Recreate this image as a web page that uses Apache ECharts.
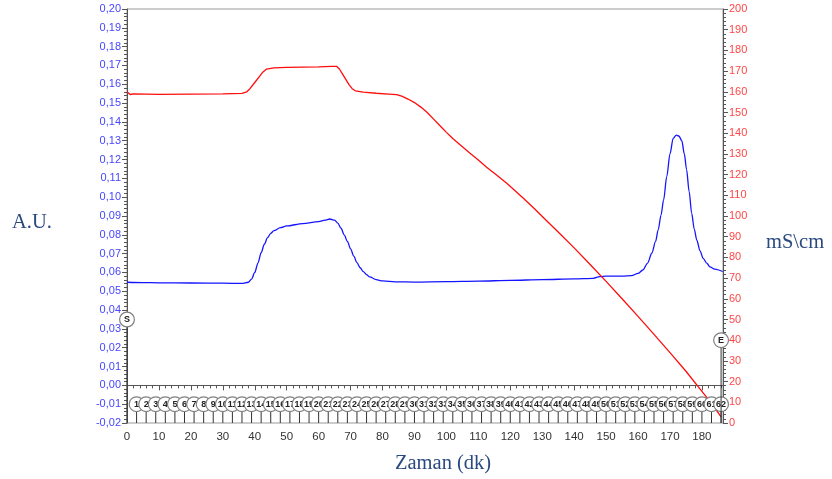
<!DOCTYPE html>
<html>
<head>
<meta charset="utf-8">
<script src="https://cdn.jsdelivr.net/npm/echarts@6/dist/echarts.min.js"></script>
<style>
  html, body { margin: 0; padding: 0; background: #fff; }
  #chart { width: 832px; height: 479px; }
</style>
</head>
<body>
<div id="chart"></div>
<script>
// UV absorbance trace (left axis, A.U.)
const uvTime = [0, 5, 10, 20, 30, 36, 38, 39, 40, 41, 42, 43, 44, 45, 46, 48, 50, 55, 60, 62, 63.5, 65, 66, 67, 68, 69, 70, 71, 72, 73, 74, 75, 76, 78, 80, 84, 90, 100, 110, 120, 130, 140, 146, 148, 150, 155, 158, 160, 161.5, 163, 164.3, 165.5, 166.3, 167.2, 168, 169, 170, 171, 172, 172.8, 173.7, 174.5, 175.2, 176, 176.8, 177.6, 178.4, 179.4, 180.4, 181.5, 182.5, 184, 186.5];
const uvAU = [0.0548, 0.0546, 0.0545, 0.0544, 0.0543, 0.0542, 0.0548, 0.0565, 0.0600, 0.0650, 0.0705, 0.0750, 0.0785, 0.0808, 0.0822, 0.0838, 0.0847, 0.0860, 0.0870, 0.0878, 0.0884, 0.0878, 0.0862, 0.0835, 0.0800, 0.0765, 0.0725, 0.0687, 0.0652, 0.0625, 0.0604, 0.0588, 0.0576, 0.0562, 0.0555, 0.0550, 0.0549, 0.0551, 0.0554, 0.0558, 0.0562, 0.0566, 0.0569, 0.0578, 0.0580, 0.0581, 0.0583, 0.0595, 0.0613, 0.0650, 0.0702, 0.0765, 0.0826, 0.0905, 0.0985, 0.1110, 0.1230, 0.1313, 0.1330, 0.1325, 0.1300, 0.1230, 0.1146, 0.1030, 0.0914, 0.0830, 0.0772, 0.0715, 0.0675, 0.0650, 0.0630, 0.0618, 0.0605];

// Conductivity trace (right axis, mS\cm)
const condTime = [0, 1, 2, 10, 20, 30, 36, 37.5, 38.5, 40, 41.5, 42.5, 43.7, 46, 50, 55, 60, 64, 65.6, 66.5, 67.5, 68.5, 69.5, 70.5, 71.5, 74, 78, 82, 84.4, 86, 88, 90, 92, 94, 96, 98, 100, 102, 104, 107.4, 110, 112.6, 115.5, 118.9, 121.5, 124.1, 127.5, 130.9, 135, 140, 145, 150, 155, 160, 165, 170, 175, 180, 183, 186];
const condMS = [160.0, 158.7, 159.0, 158.8, 158.9, 159.0, 159.2, 160.0, 161.5, 164.5, 167.5, 169.5, 171.0, 171.6, 171.8, 171.9, 172.0, 172.3, 172.3, 171.0, 168.5, 166.0, 163.5, 161.5, 160.5, 159.8, 159.3, 158.9, 158.6, 157.9, 156.5, 154.8, 152.6, 150.0, 146.8, 143.6, 140.4, 137.4, 134.8, 130.3, 127.1, 123.5, 120.0, 115.8, 112.2, 108.6, 103.6, 98.4, 92.3, 84.6, 76.6, 68.4, 60.0, 51.5, 42.8, 34.0, 25.0, 15.3, 9.5, 3.0];

// Fraction collector marks: tube number and the time it was cut
const fractionNo = [1, 2, 3, 4, 5, 6, 7, 8, 9, 10, 11, 12, 13, 14, 15, 16, 17, 18, 19, 20, 21, 22, 23, 24, 25, 26, 27, 28, 29, 30, 31, 32, 33, 34, 35, 36, 37, 38, 39, 40, 41, 42, 43, 44, 45, 46, 47, 48, 49, 50, 51, 52, 53, 54, 55, 56, 57, 58, 59, 60, 61, 62];
const fractionTime = [3, 6, 9, 12, 15, 18, 21, 24, 27, 30, 33, 36, 39, 42, 45, 48, 51, 54, 57, 60, 63, 66, 69, 72, 75, 78, 81, 84, 87, 90, 93, 96, 99, 102, 105, 108, 111, 114, 117, 120, 123, 126, 129, 132, 135, 138, 141, 144, 147, 150, 153, 156, 159, 162, 165, 168, 171, 174, 177, 180, 183, 186];
const fractionLevel = -0.01;

// Run start / end events
const eventText = ['S', 'E'];
const eventTime = [0, 186];
const eventLevel = [0.035, 0.024];

const xTicks = [0, 10, 20, 30, 40, 50, 60, 70, 80, 90, 100, 110, 120, 130, 140, 150, 160, 170, 180];

const chart = echarts.init(document.getElementById('chart'), null, { renderer: 'canvas' });

const fmtAU = v => {
  const r = Math.round(v * 100) / 100;
  return (Math.abs(r) < 1e-9 ? 0 : r).toFixed(2).replace('.', ',');
};

function markerRenderer(labels) {
  return function (params, api) {
    const c = api.coord([api.value(0), api.value(1)]);
    const base = api.coord([api.value(0), -0.02]);
    const r = 7.4;
    return {
      type: 'group',
      children: [
        { type: 'line', shape: { x1: c[0], y1: c[1] + r, x2: c[0], y2: base[1] },
          style: { stroke: '#333', lineWidth: 1 } },
        { type: 'circle', shape: { cx: c[0], cy: c[1], r: r },
          style: { fill: '#fff', stroke: '#808080', lineWidth: 1.2 } },
        { type: 'text', x: c[0], y: c[1] + 0.5,
          style: { text: String(labels[params.dataIndex]), fill: '#222',
                   font: 'bold 9px "Liberation Sans", Arial, sans-serif',
                   align: 'center', verticalAlign: 'middle' } }
      ]
    };
  };
}

const titleFont = '20.5px "Liberation Serif", "Times New Roman", serif';
const titleColor = '#2a4a7f';

chart.setOption({
  animation: false,
  backgroundColor: '#fff',
  grid: { left: 127, right: 109, top: 9, bottom: 56, show: true, borderColor: '#999', borderWidth: 1 },
  xAxis: {
    type: 'value', min: 0, max: 186.6, interval: 10,
    axisLine: { show: true, lineStyle: { color: '#555' } },
    axisTick: { show: true, length: 5, lineStyle: { color: '#555' } },
    minorTick: { show: true, splitNumber: 5, length: 3, lineStyle: { color: '#555' } },
    splitLine: { show: false },
    axisLabel: {
      color: '#333', fontSize: 11.5, margin: 8, fontFamily: 'Liberation Sans',
      formatter: v => (xTicks.indexOf(Math.round(v)) >= 0 && Math.abs(v - Math.round(v)) < 1e-6) ? String(Math.round(v)) : ''
    }
  },
  yAxis: [
    {
      type: 'value', position: 'left', min: -0.02, max: 0.2, interval: 0.01,
      axisLine: { show: true, lineStyle: { color: '#555' } },
      axisTick: { show: true, length: 5, lineStyle: { color: '#555' } },
      minorTick: { show: true, splitNumber: 5, length: 3, lineStyle: { color: '#555' } },
      splitLine: { show: false },
      axisLabel: { color: '#4646ff', fontSize: 11, margin: 6, fontFamily: 'Liberation Sans', formatter: fmtAU }
    },
    {
      type: 'value', position: 'right', min: 0, max: 200, interval: 10,
      axisLine: { show: true, lineStyle: { color: '#555' } },
      axisTick: { show: true, length: 5, lineStyle: { color: '#555' } },
      minorTick: { show: true, splitNumber: 5, length: 3, lineStyle: { color: '#555' } },
      splitLine: { show: false },
      axisLabel: { color: '#ff4646', fontSize: 11, margin: 6, fontFamily: 'Liberation Sans' }
    }
  ],
  series: [
    {
      name: 'UV', type: 'line', yAxisIndex: 0, showSymbol: false,
      smooth: 0.3, smoothMonotone: 'x',
      lineStyle: { color: '#1414ff', width: 1.3 },
      data: uvTime.map((t, i) => [t, uvAU[i]]),
      z: 3
    },
    {
      name: 'Conductivity', type: 'line', yAxisIndex: 1, showSymbol: false,
      smooth: false,
      lineStyle: { color: '#ff0d0d', width: 1.3 },
      data: condTime.map((t, i) => [t, condMS[i]]),
      z: 4
    },
    {
      name: 'Fractions', type: 'custom', yAxisIndex: 0,
      renderItem: markerRenderer(fractionNo),
      data: fractionTime.map(t => [t, fractionLevel]),
      clip: false, z: 5
    },
    {
      name: 'Events', type: 'custom', yAxisIndex: 0,
      renderItem: markerRenderer(eventText),
      data: eventTime.map((t, i) => [t, eventLevel[i]]),
      clip: false, z: 6
    }
  ],
  graphic: [
    { type: 'text', left: 12, top: 212, style: { text: 'A.U.', font: titleFont, fill: titleColor } },
    { type: 'text', left: 766, top: 232, style: { text: 'mS\\cm', font: titleFont, fill: titleColor } },
    { type: 'text', left: 395, top: 453, style: { text: 'Zaman (dk)', font: titleFont, fill: titleColor } }
  ]
});
</script>
</body>
</html>
